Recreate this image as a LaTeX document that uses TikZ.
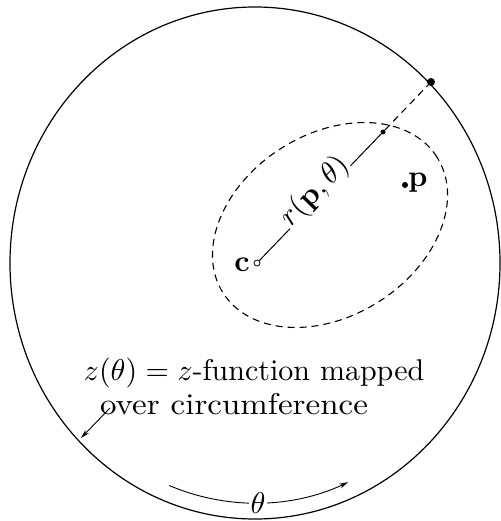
\documentclass[tikz,border=0pt]{standalone}
\usetikzlibrary{arrows.meta,calc}
\begin{document}
\begin{tikzpicture}[x=1pt,y=1pt,
  curve/.style={line width=1.2pt},
  dashcurve/.style={line width=1.1pt, dash pattern=on 7pt off 5pt},
  txt/.style={scale=3, inner sep=0.6pt},
  tip/.style={-{Stealth[length=9pt,width=5pt]}}]
\useasboundingbox (0,0) rectangle (500,-521);
% big circle
\coordinate (O) at (255,-263);
\draw[curve] (O) ellipse [x radius=245, y radius=256];
% dashed region
\draw[dashcurve, rotate around={32.4:(330,-225)}] (330,-225) ellipse [x radius=126.7, y radius=90.9];
% points
\node[circle, draw, line width=0.8pt, fill=white, inner sep=0pt, minimum size=6pt] (c) at (257,-263) {};
\node[txt, anchor=east] (clbl) at (252,-265) {$\mathbf{c}$};
\node[circle, fill, inner sep=0pt, minimum size=5pt] (sd) at (383,-132) {};
\node[circle, fill, inner sep=0pt, minimum size=8pt] (bd) at (431,-82) {};
\node[circle, fill, inner sep=0pt, minimum size=6pt] (p) at (405,-185) {};
\node[txt, anchor=west] (plbl) at (406,-183) {$\mathbf{p}$};
% radius line
\draw[curve, line width=1.0pt] (c) -- (sd) node[midway, sloped, anchor=base, fill=white, txt, inner sep=0.3pt] (rlbl) {$r(\mathbf{p},\theta)$};
\draw[dashcurve] (sd) -- (bd);
% text
\node[txt] (t1) at (254,-373) {$z(\theta)=z$-function mapped};
\node[txt, xscale=1.1] (t2) at (234,-404) {over circumference};
\coordinate (a1) at (110,-408);
\coordinate (a2) at (81,-438);
\draw[curve, line width=0.9pt, tip] (a1) -- (a2);
% theta arc
\coordinate (th0) at ($(O)+(248:229 and 240)$);
\draw[curve, line width=0.9pt, tip] (th0) arc[start angle=248, end angle=294, x radius=229, y radius=240];
\node[txt, fill=white] (th) at (258,-503) {$\theta$};
\end{tikzpicture}
\end{document}
